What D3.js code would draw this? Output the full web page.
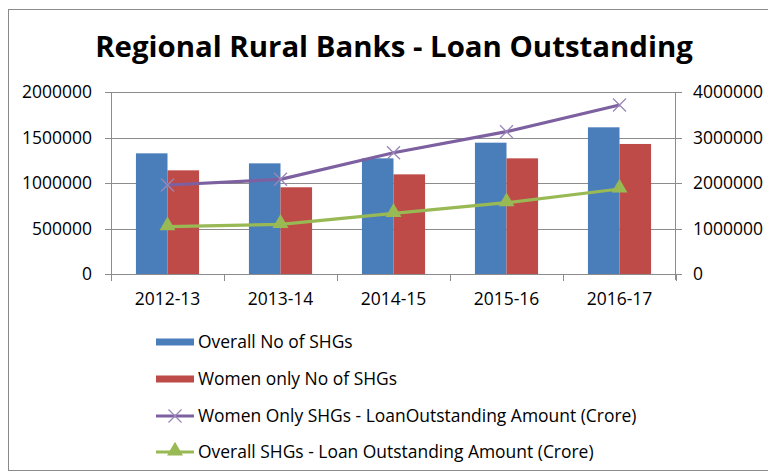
<!DOCTYPE html>
<html>
<head>
<meta charset="utf-8">
<script src="https://cdn.jsdelivr.net/npm/d3@7"></script>
<style>
  html, body { margin: 0; padding: 0; background: #fff; }
  svg { display: block; }
  text { font-family: "Open Sans", "Noto Sans", sans-serif; fill: #000; }
</style>
</head>
<body>
<svg id="chart" width="768" height="472"></svg>
<script>
// Financial years
const categories = ["2012-13", "2013-14", "2014-15", "2015-16", "2016-17"];

// Bar series (left axis): number of SHGs
const overallShgs = [1326000, 1216000, 1271000, 1443000, 1612000];
const womenShgs   = [1139000, 953000, 1095000, 1271000, 1429000];

// Line series (right axis): loan outstanding amount
const womenLoan   = [1956000, 2081000, 2666000, 3128000, 3714000];
const overallLoan = [1040000, 1092000, 1334000, 1567000, 1868000];

// Axis ticks
const leftTicks  = [0, 500000, 1000000, 1500000, 2000000];
const rightTicks = [0, 1000000, 2000000, 3000000, 4000000];

const seriesNames = [
  "Overall No of SHGs",
  "Women only No of SHGs",
  "Women Only SHGs - LoanOutstanding Amount (Crore)",
  "Overall SHGs - Loan Outstanding Amount (Crore)"
];

const colors = {
  blue: "#4a7ebb",
  red: "#be4b48",
  purple: "#7d60a0",
  green: "#98b954",
  grid: "#8c8c8c"
};

const svg = d3.select("#chart");

// Fit a text element's font size so its rendered width equals target
function fitWidth(sel, target) {
  const node = sel.node();
  const fs = parseFloat(sel.attr("font-size"));
  const w = node.getComputedTextLength();
  if (w > 0) sel.attr("font-size", (fs * target / w).toFixed(2));
  return sel;
}

// Outer frame
svg.append("rect")
  .attr("x", 8.5).attr("y", 9.5)
  .attr("width", 800).attr("height", 461)
  .attr("fill", "none")
  .attr("stroke", "#8a8a8a")
  .attr("stroke-width", 1);

// Title
const title = svg.append("text")
  .attr("x", 394).attr("y", 57)
  .attr("text-anchor", "middle")
  .attr("font-size", 30)
  .attr("font-weight", "bold")
  .text("Regional Rural Banks - Loan Outstanding");
fitWidth(title, 598);

// Plot area
const plot = { left: 111, right: 676, top: 92, bottom: 274 };

const x0 = d3.scaleBand()
  .domain(categories)
  .range([plot.left, plot.right])
  .paddingInner(0).paddingOuter(0);

const x1 = d3.scaleBand()
  .domain(["overall", "women"])
  .range([0, x0.bandwidth()])
  .paddingInner(0)
  .paddingOuter(0.79);

const yLeft = d3.scaleLinear().domain([0, 2000000]).range([plot.bottom, plot.top]);
const yRight = d3.scaleLinear().domain([0, 4000000]).range([plot.bottom, plot.top]);

// Horizontal gridlines
svg.append("g")
  .selectAll("line")
  .data(leftTicks)
  .join("line")
  .attr("x1", plot.left - 6).attr("x2", plot.right + 6)
  .attr("y1", d => Math.round(yLeft(d)) + 0.5)
  .attr("y2", d => Math.round(yLeft(d)) + 0.5)
  .attr("stroke", colors.grid)
  .attr("stroke-width", 1);

// Left and right axis lines
svg.append("line")
  .attr("x1", plot.left + 0.5).attr("x2", plot.left + 0.5)
  .attr("y1", plot.top).attr("y2", plot.bottom)
  .attr("stroke", colors.grid);
svg.append("line")
  .attr("x1", plot.right - 0.5).attr("x2", plot.right - 0.5)
  .attr("y1", plot.top).attr("y2", plot.bottom + 6)
  .attr("stroke", colors.grid);

// Category boundary tick marks
const boundaries = categories.map(c => x0(c)).concat([plot.right]);
svg.append("g")
  .selectAll("line")
  .data(boundaries)
  .join("line")
  .attr("x1", d => Math.round(d) + 0.5).attr("x2", d => Math.round(d) + 0.5)
  .attr("y1", plot.bottom).attr("y2", plot.bottom + 7)
  .attr("stroke", colors.grid);

// Left tick labels
svg.append("g")
  .selectAll("text")
  .data(leftTicks)
  .join("text")
  .attr("x", 92)
  .attr("y", d => yLeft(d) + 6)
  .attr("text-anchor", "end")
  .attr("font-size", 17)
  .text(d => d3.format("d")(d))
  .each(function (d) {
    if (d === 2000000) fitWidth(d3.select(this), 70);
  });
const leftFs = svg.selectAll("g:last-of-type text").filter(d => d === 2000000).attr("font-size");
svg.selectAll("g:last-of-type text").attr("font-size", leftFs);

// Right tick labels
const rightG = svg.append("g");
rightG.selectAll("text")
  .data(rightTicks)
  .join("text")
  .attr("x", 693)
  .attr("y", d => yRight(d) + 6)
  .attr("text-anchor", "start")
  .attr("font-size", leftFs)
  .text(d => d3.format("d")(d));

// Category labels
const catG = svg.append("g");
catG.selectAll("text")
  .data(categories)
  .join("text")
  .attr("x", d => x0(d) + x0.bandwidth() / 2)
  .attr("y", 305)
  .attr("text-anchor", "middle")
  .attr("font-size", leftFs)
  .text(d => d);

// Bars
const barData = categories.map((c, i) => ({ c, overall: overallShgs[i], women: womenShgs[i] }));
const barG = svg.append("g");
barG.selectAll("g")
  .data(barData)
  .join("g")
  .attr("transform", d => `translate(${x0(d.c)},0)`)
  .selectAll("rect")
  .data(d => [
    { key: "overall", value: d.overall, color: colors.blue },
    { key: "women", value: d.women, color: colors.red }
  ])
  .join("rect")
  .attr("x", d => x1(d.key))
  .attr("width", x1.bandwidth())
  .attr("y", d => yLeft(d.value))
  .attr("height", d => plot.bottom - yLeft(d.value))
  .attr("fill", d => d.color);

const cx = c => x0(c) + x0.bandwidth() / 2;

// Line: women-only loan outstanding
const line = d3.line().x(d => cx(d.c)).y(d => yRight(d.v));
const womenPts = categories.map((c, i) => ({ c, v: womenLoan[i] }));
const overallPts = categories.map((c, i) => ({ c, v: overallLoan[i] }));

svg.append("path")
  .datum(womenPts)
  .attr("d", line)
  .attr("fill", "none")
  .attr("stroke", colors.purple)
  .attr("stroke-width", 3.2);

function crossMarker(g, x, y, r) {
  g.append("path")
    .attr("d", `M${x - r},${y - r}L${x + r},${y + r}M${x - r},${y + r}L${x + r},${y - r}`)
    .attr("stroke", "#9a86b8")
    .attr("stroke-width", 1.3)
    .attr("fill", "none");
}
const crossG = svg.append("g");
womenPts.forEach(d => crossMarker(crossG, cx(d.c), yRight(d.v), 6.5));

// Line: overall loan outstanding
svg.append("path")
  .datum(overallPts)
  .attr("d", line)
  .attr("fill", "none")
  .attr("stroke", colors.green)
  .attr("stroke-width", 3.2);

const tri = d3.symbol().type(d3.symbolTriangle).size(110);
svg.append("g")
  .selectAll("path")
  .data(overallPts)
  .join("path")
  .attr("transform", d => `translate(${cx(d.c)},${yRight(d.v) - 1})`)
  .attr("d", tri)
  .attr("fill", colors.green);

// Legend
const legend = svg.append("g");
const legRows = [348, 385, 422, 458];
const swX0 = 156, swX1 = 194, textX = 198;

seriesNames.forEach((name, i) => {
  const yb = legRows[i];
  const yc = yb - 6;
  if (i < 2) {
    legend.append("rect")
      .attr("x", swX0).attr("y", yc - 3.5)
      .attr("width", swX1 - swX0).attr("height", 7)
      .attr("fill", i === 0 ? colors.blue : colors.red);
  } else {
    const col = i === 2 ? colors.purple : colors.green;
    legend.append("line")
      .attr("x1", swX0).attr("x2", swX1)
      .attr("y1", yc).attr("y2", yc)
      .attr("stroke", col).attr("stroke-width", 3);
    const mx = (swX0 + swX1) / 2;
    if (i === 2) {
      crossMarker(legend, mx, yc, 6.5);
    } else {
      legend.append("path")
        .attr("transform", `translate(${mx},${yc - 1})`)
        .attr("d", tri)
        .attr("fill", colors.green);
    }
  }
  legend.append("text")
    .attr("x", textX).attr("y", yb)
    .attr("font-size", 16)
    .attr("class", "leg")
    .text(name);
});

// Size legend text from its longest entry
const longest = legend.selectAll("text.leg").filter((d, i, n) => n[i].textContent === seriesNames[2]);
fitWidth(longest, 439);
legend.selectAll("text.leg").attr("font-size", longest.attr("font-size"));
</script>
</body>
</html>
